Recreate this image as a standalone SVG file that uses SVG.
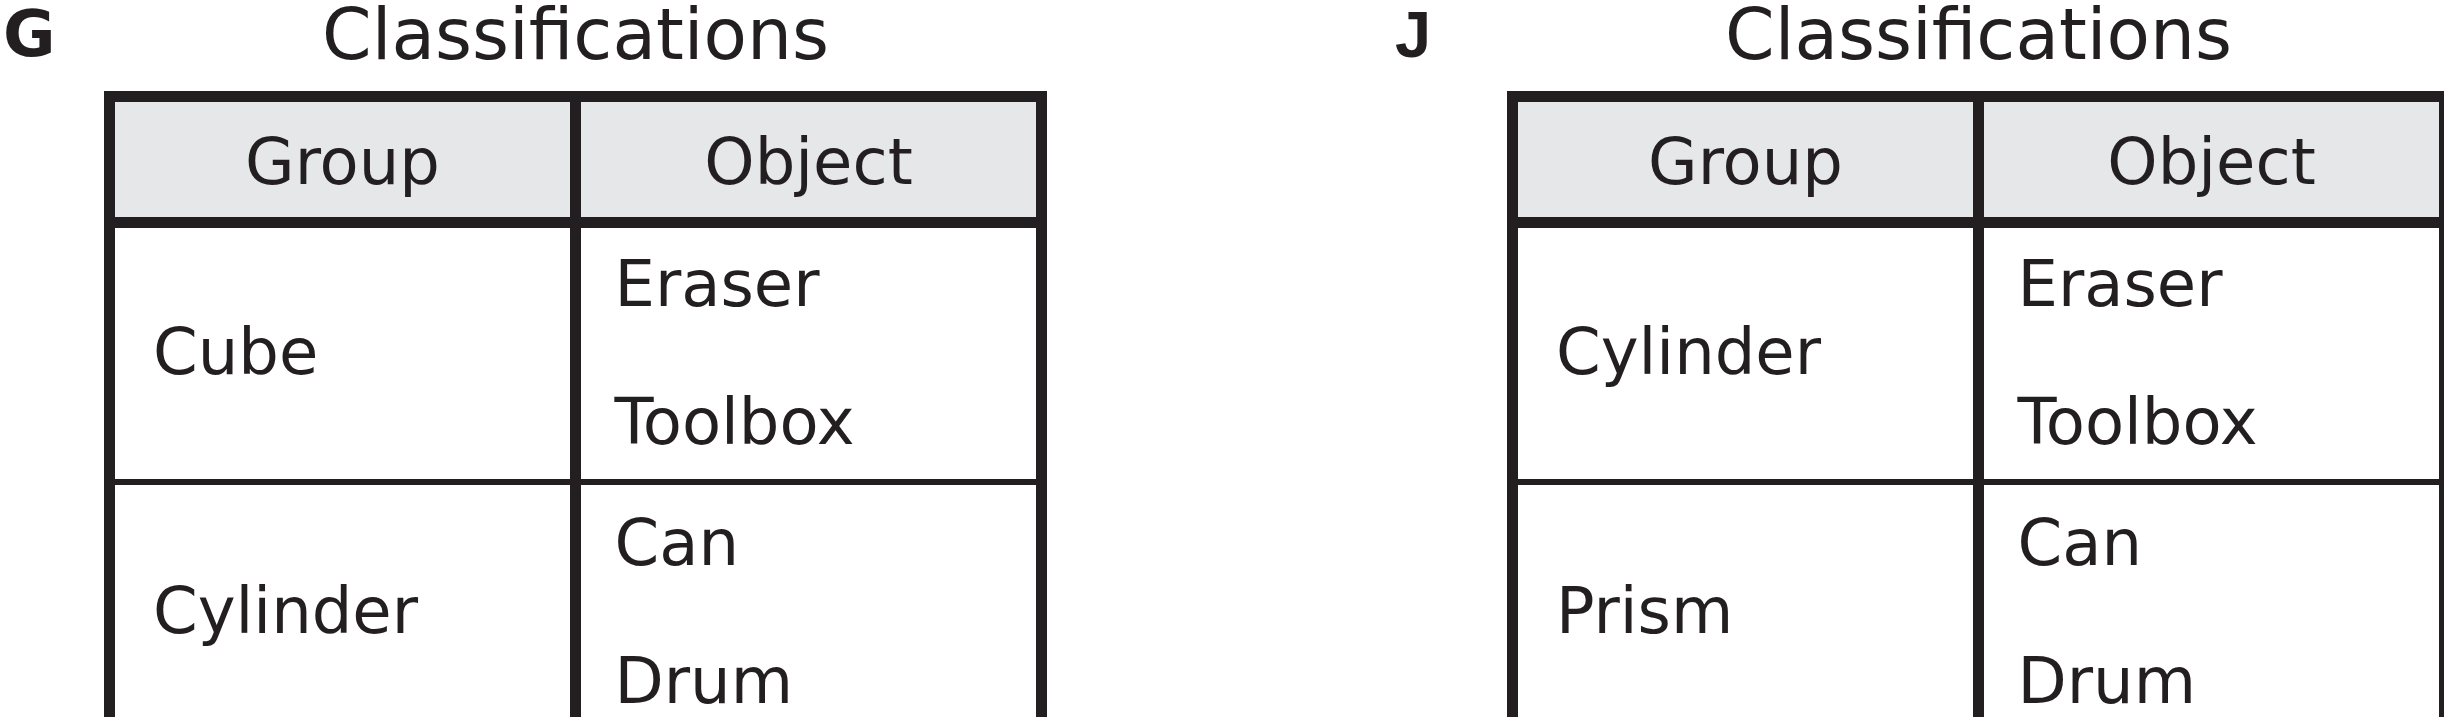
<svg xmlns="http://www.w3.org/2000/svg" width="2444" height="717" viewBox="0 0 2444 717">
  <style>
    .t { font-family: "DejaVu Sans", Verdana, sans-serif; fill: #231f20; }
    .lbl { font-size: 64px; font-weight: bold; }
    .lblj { font-family: "Liberation Sans", Arial, sans-serif; font-size: 65px; font-weight: bold; fill: #231f20; }
    .title { font-size: 71px; text-anchor: middle; }
    .hdr { font-size: 64px; text-anchor: middle; }
    .cell { font-size: 64px; }
    .ln { fill: #231f20; }
    .head { fill: #e6e7e8; }
  </style>
  <defs>
    <g id="tableG">
      <rect class="head" x="110" y="97" width="932" height="126"/>
      <rect class="ln" x="104" y="91" width="943" height="11"/>
      <rect class="ln" x="104" y="217" width="943" height="11"/>
      <rect class="ln" x="110" y="479" width="932" height="6"/>
      <rect class="ln" x="104" y="91" width="11" height="640"/>
      <rect class="ln" x="570" y="91" width="11" height="640"/>
      <rect class="ln" x="1036" y="91" width="11" height="640"/>
    </g>
  </defs>
  <rect width="2444" height="717" fill="#ffffff"/>

  <g id="panel-G">
    <text class="t lbl" x="3" y="56">G</text>
    <text class="t title" x="575.5" y="59">Classifications</text>
    <g id="connectors-G"><use href="#tableG"/></g>
    <g id="header-G">
      <text class="t hdr" x="342.5" y="184">Group</text>
      <text class="t hdr" x="808.5" y="184">Object</text>
    </g>
    <g id="row1-G">
      <text class="t cell" x="153" y="374">Cube</text>
      <text class="t cell" x="614.5" y="306">Eraser</text>
      <text class="t cell" x="614.5" y="443.5">Toolbox</text>
    </g>
    <g id="row2-G">
      <text class="t cell" x="153" y="633">Cylinder</text>
      <text class="t cell" x="614.5" y="564.5">Can</text>
      <text class="t cell" x="614.5" y="703">Drum</text>
    </g>
  </g>

  <g id="panel-J">
    <text class="lblj" x="1395" y="57">J</text>
    <g transform="translate(1403,0)">
      <text class="t title" x="575.5" y="59">Classifications</text>
      <g id="connectors-J"><use href="#tableG"/></g>
      <g id="header-J">
        <text class="t hdr" x="342.5" y="184">Group</text>
        <text class="t hdr" x="808.5" y="184">Object</text>
      </g>
      <g id="row1-J">
        <text class="t cell" x="153" y="374">Cylinder</text>
        <text class="t cell" x="614.5" y="306">Eraser</text>
        <text class="t cell" x="614.5" y="443.5">Toolbox</text>
      </g>
      <g id="row2-J">
        <text class="t cell" x="153" y="633">Prism</text>
        <text class="t cell" x="614.5" y="564.5">Can</text>
        <text class="t cell" x="614.5" y="703">Drum</text>
      </g>
    </g>
  </g>
</svg>
